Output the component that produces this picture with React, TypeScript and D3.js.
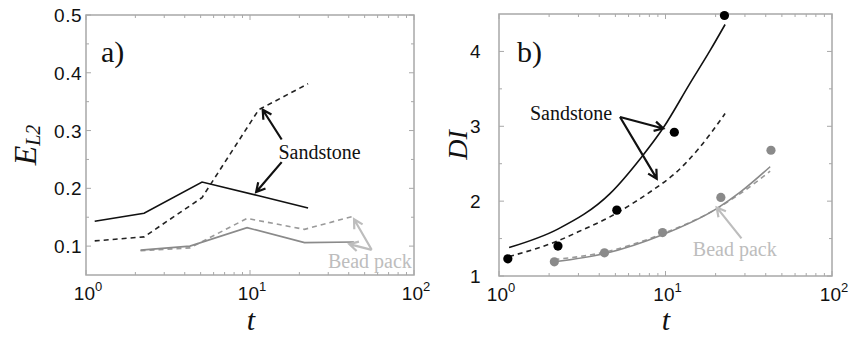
import React, { useEffect, useRef } from "react";
import * as d3 from "d3";

// sampling times (t)
const sandT = [1.13, 2.26, 5.1, 11.3, 22.6];
const beadT = [2.15, 4.3, 9.6, 21.5, 43];

// panel a) E_L2
const errSandSolid = [0.143, 0.157, 0.211, 0.187, 0.166];
const errSandDash = [0.109, 0.116, 0.184, 0.336, 0.381];
const errBeadSolid = [0.093, 0.1, 0.132, 0.106, 0.107];
const errBeadDash = [0.092, 0.097, 0.148, 0.129, 0.152];

// panel b) DI, measured points
const diSandObs = [1.23, 1.4, 1.88, 2.92, 4.48];
const diBeadObs = [1.19, 1.31, 1.58, 2.05, 2.68];

// panel b) DI, model curves
const fitSandSolidT = [1.15, 2.27, 4.64, 7.19, 9.7, 14.0, 18.5, 22.8];
const fitSandSolid = [1.38, 1.63, 2.1, 2.59, 2.98, 3.57, 4.01, 4.36];
const fitSandDashT = [1.15, 2.32, 2.99, 4.64, 6.56, 8.67, 11.4, 15.8, 22.8];
const fitSandDash = [1.26, 1.48, 1.59, 1.79, 1.99, 2.17, 2.37, 2.7, 3.17];
const fitBeadT = [2.15, 4.33, 9.5, 20.3, 28.1, 42.5];
const fitBeadSolid = [1.19, 1.3, 1.547, 1.9, 2.12, 2.46];
const fitBeadDash = [1.22, 1.32, 1.56, 1.9, 2.1, 2.4];

const errTicks = [0.1, 0.2, 0.3, 0.4, 0.5];
const errMinor = [0.15, 0.25, 0.35, 0.45];
const diTicks = [1, 2, 3, 4];
const diMinor = [1.5, 2.5, 3.5];

const SANS = '"Liberation Sans", Arial, Helvetica, sans-serif';
const SERIF = '"Liberation Serif", "Times New Roman", "DejaVu Serif", serif';

const zip = (a: number[], b: number[]) => a.map((v, i) => [v, b[i]] as [number, number]);

const App = () => {
  const svgRef = useRef<SVGSVGElement | null>(null);

  useEffect(() => {
    const svg = d3.select(svgRef.current);
    svg.selectAll("*").remove();

    const frame = "#a8a8a8";
    const gray = "#8a8a8a";
    const light = "#bdbdbd";

    const drawFrame = (g: any, x: any, y: any, yTicks: number[], yMinor: number[], labelGap: number) => {
      const [x0, x1] = x.range();
      const [y0, y1] = y.range(); // y0 bottom
      // x ticks (log)
      x.ticks().forEach((t: number) => {
        const major = Math.abs(Math.log10(t) - Math.round(Math.log10(t))) < 1e-9;
        const len = major ? 5 : 3;
        const px = x(t);
        g.append("line").attr("x1", px).attr("x2", px).attr("y1", y0).attr("y2", y0 - len).attr("stroke", frame);
        g.append("line").attr("x1", px).attr("x2", px).attr("y1", y1).attr("y2", y1 + len).attr("stroke", frame);
        if (major) {
          const tx = g.append("text").attr("x", px + 2).attr("y", y0 + 25)
            .attr("text-anchor", "middle").style("font-family", SANS)
            .style("font-size", "19px").attr("fill", "#111");
          tx.append("tspan").text("10");
          tx.append("tspan").attr("dy", -9).style("font-size", "13px").text(String(Math.round(Math.log10(t))));
        }
      });
      yTicks.concat(yMinor).forEach((v) => {
        const py = y(v);
        const len = yTicks.includes(v) ? 5 : 3;
        g.append("line").attr("x1", x0).attr("x2", x0 + len).attr("y1", py).attr("y2", py).attr("stroke", frame);
        g.append("line").attr("x1", x1).attr("x2", x1 - len).attr("y1", py).attr("y2", py).attr("stroke", frame);
      });
      yTicks.forEach((v) => {
        g.append("text").attr("x", x0 - labelGap).attr("y", y(v) + 7)
          .attr("text-anchor", "end").style("font-family", SANS)
          .style("font-size", "19px").attr("letter-spacing", 0.5).attr("fill", "#111")
          .text(String(v));
      });
      g.append("rect").attr("x", x0).attr("y", y1).attr("width", x1 - x0).attr("height", y0 - y1)
        .attr("fill", "none").attr("stroke", frame).attr("stroke-width", 1.5);
    };

    const arrow = (g: any, x: any, y: any, from: [number, number], to: [number, number], color: string) => {
      const fx = x(from[0]), fy = y(from[1]), tx = x(to[0]), ty = y(to[1]);
      const ang = Math.atan2(ty - fy, tx - fx);
      const h = 10, spread = 0.5;
      const p = d3.path();
      p.moveTo(fx, fy);
      p.lineTo(tx, ty);
      p.moveTo(tx - h * Math.cos(ang - spread), ty - h * Math.sin(ang - spread));
      p.lineTo(tx, ty);
      p.lineTo(tx - h * Math.cos(ang + spread), ty - h * Math.sin(ang + spread));
      g.append("path").attr("d", p.toString()).attr("fill", "none").attr("stroke", color)
        .attr("stroke-width", 2.2).attr("stroke-linejoin", "miter");
    };

    const label = (g: any, px: number, py: number, txt: string, color: string, size = 20) =>
      g.append("text").attr("x", px).attr("y", py).style("font-family", SERIF)
        .style("font-size", `${size}px`).attr("fill", color).text(txt);

    // ---------- panel a ----------
    const xa = d3.scaleLog().domain([1, 100]).range([86, 414]);
    const ya = d3.scaleLinear().domain([0.05, 0.5]).range([275, 15]);
    const ga = svg.append("g");
    drawFrame(ga, xa, ya, errTicks, errMinor, 4);

    const lineA = d3.line<[number, number]>().x((d) => xa(d[0])).y((d) => ya(d[1]));
    const seriesA = [
      { d: zip(sandT, errSandSolid), c: "#111", dash: null },
      { d: zip(sandT, errSandDash), c: "#222", dash: "5,4" },
      { d: zip(beadT, errBeadDash), c: "#9a9a9a", dash: "5,4" },
      { d: zip(beadT, errBeadSolid), c: gray, dash: null },
    ];
    seriesA.forEach((s) => {
      ga.append("path").attr("d", lineA(s.d)).attr("fill", "none").attr("stroke", s.c)
        .attr("stroke-width", 1.6).attr("stroke-dasharray", s.dash);
    });

    label(ga, xa(14.9), ya(0.2512), "Sandstone", "#111");
    arrow(ga, xa, ya, [15.6, 0.2845], [11.95, 0.336], "#111");
    arrow(ga, xa, ya, [15.6, 0.2453], [10.9, 0.1936], "#111");
    label(ga, xa(29.9), ya(0.062), "Bead pack", light);
    arrow(ga, xa, ya, [55.2, 0.0936], [43.1, 0.1466], light);
    arrow(ga, xa, ya, [55.2, 0.0936], [40.3, 0.1034], light);
    label(ga, 101, 62, "a)", "#111", 30);

    // axis titles a
    const ta = ga.append("text").attr("transform", "translate(36,145) rotate(-90)")
      .attr("text-anchor", "middle").style("font-family", SERIF)
      .style("font-style", "italic").attr("fill", "#111");
    ta.append("tspan").style("font-size", "32px").text("E");
    ta.append("tspan").style("font-size", "20px").attr("dy", 4).text("L2");
    ga.append("text").attr("x", 251).attr("y", 330).attr("text-anchor", "middle")
      .style("font-family", SERIF).style("font-style", "italic")
      .style("font-size", "30px").attr("fill", "#111").text("t");

    // ---------- panel b ----------
    const xb = d3.scaleLog().domain([1, 100]).range([499, 832]);
    const yb = d3.scaleLinear().domain([1, 4.5]).range([276, 14]);
    const gb = svg.append("g");
    drawFrame(gb, xb, yb, diTicks, diMinor, 18);

    const lineB = d3.line<[number, number]>().x((d) => xb(d[0])).y((d) => yb(d[1])).curve(d3.curveMonotoneX);
    const seriesB = [
      { d: zip(fitSandSolidT, fitSandSolid), c: "#111", dash: null },
      { d: zip(fitSandDashT, fitSandDash), c: "#222", dash: "5,4" },
      { d: zip(fitBeadT, fitBeadDash), c: "#9a9a9a", dash: "5,4" },
      { d: zip(fitBeadT, fitBeadSolid), c: gray, dash: null },
    ];
    seriesB.forEach((s) => {
      gb.append("path").attr("d", lineB(s.d)).attr("fill", "none").attr("stroke", s.c)
        .attr("stroke-width", 1.6).attr("stroke-dasharray", s.dash);
    });
    gb.selectAll("circle.sand").data(zip(sandT, diSandObs)).enter().append("circle")
      .attr("cx", (d) => xb(d[0])).attr("cy", (d) => yb(d[1])).attr("r", 4.6).attr("fill", "#000");
    gb.selectAll("circle.bead").data(zip(beadT, diBeadObs)).enter().append("circle")
      .attr("cx", (d) => xb(d[0])).attr("cy", (d) => yb(d[1])).attr("r", 4.6).attr("fill", gray);

    label(gb, xb(1.535), yb(3.08), "Sandstone", "#111");
    arrow(gb, xb, yb, [5.33, 3.124], [9.7, 2.97], "#111");
    arrow(gb, xb, yb, [5.33, 3.124], [8.86, 2.3], "#111");
    label(gb, xb(14.6), yb(1.267), "Bead pack", light);
    arrow(gb, xb, yb, [28.6, 1.503], [20.3, 1.916], light);
    label(gb, 517, 62, "b)", "#111", 30);

    gb.append("text").attr("transform", "translate(467,145) rotate(-90)")
      .attr("text-anchor", "middle").style("font-family", SERIF)
      .style("font-style", "italic").style("font-size", "28px").attr("fill", "#111").text("DI");
    gb.append("text").attr("x", 666).attr("y", 330).attr("text-anchor", "middle")
      .style("font-family", SERIF).style("font-style", "italic")
      .style("font-size", "30px").attr("fill", "#111").text("t");
  }, []);

  return (
    <svg
      ref={svgRef}
      width={852}
      height={337}
      style={{ position: "fixed", left: 0, top: 0, background: "#fff" }}
    ></svg>
  );
};

export default App;
